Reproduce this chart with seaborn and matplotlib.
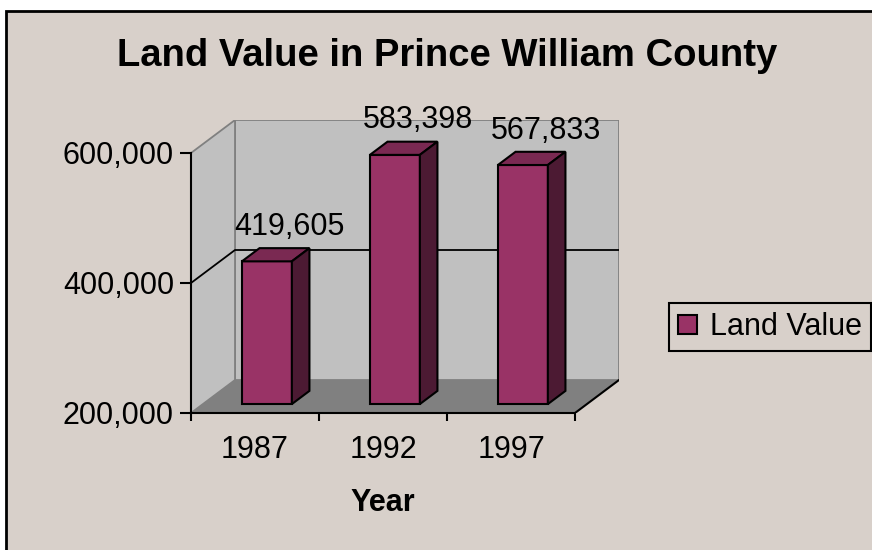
import numpy as np
import pandas as pd
import matplotlib
matplotlib.use("Agg")
import matplotlib.pyplot as plt
from matplotlib.patches import Polygon, Rectangle
from matplotlib.ticker import FuncFormatter
import matplotlib.transforms as mtransforms
import seaborn as sns

#----------- data -----------
years = ["1987", "1992", "1997"]
land_value = [419605, 583398, 567833]
series_name = "Land Value"
y_ticks = [200000, 400000, 600000]
title = "Land Value in Prince William County"
x_title = "Year"

#----------- colours (old excel look) -----------
bg = "#d8d0ca"
wall_c = "#c0c0c0"
floor_c = "#808080"
bar_front = "#993366"
bar_top = "#7a2952"
bar_side = "#4c1a33"

sns.set_theme(style="white")
plt.rcParams["font.family"] = ["Liberation Sans", "DejaVu Sans"]

df = pd.DataFrame({"Year": years, "Value": land_value})

W, H = 872, 550
fig = plt.figure(figsize=(W / 100, H / 100), dpi=100)
fig.patch.set_facecolor("white")
# chart area with black frame (runs off the right/bottom edge)
fig.patches.append(Rectangle((6 / W, -0.1), 1.1, 1.1 - 11 / H, transform=fig.transFigure,
                             facecolor=bg, edgecolor="black", lw=2, zorder=-10))

ax = fig.add_axes([191 / W, 137 / H, 428 / W, 293 / H])
ax.set_facecolor("none")

# depth of the fake 3d box, in data units
DX = 44 / 128
DY = 33 / 130 * 200000
D0, D1 = 0.27, 0.67   # bar front / back depth
ymin, ymax = y_ticks[0], y_ticks[-1]
x0, x1 = -0.5, len(years) - 0.5

def pt(x, y, d):
    return (x + d * DX, y + d * DY)

#----------- walls and floor -----------
ax.add_patch(Polygon([pt(x0, ymin, 1), pt(x1, ymin, 1), pt(x1, ymax, 1), pt(x0, ymax, 1)],
                     closed=True, fc=wall_c, ec="#808080", lw=1.3, zorder=0))
ax.add_patch(Polygon([pt(x0, ymin, 0), pt(x0, ymin, 1), pt(x0, ymax, 1), pt(x0, ymax, 0)],
                     closed=True, fc=wall_c, ec="#808080", lw=1.3, zorder=0))
ax.add_patch(Polygon([pt(x0, ymin, 0), pt(x1, ymin, 0), pt(x1, ymin, 1), pt(x0, ymin, 1)],
                     closed=True, fc=floor_c, ec="none", zorder=0.5))
ax.plot([x1, x1 + DX], [ymin, ymin + DY], color="black", lw=1.5, zorder=1)
for t in y_ticks[1:-1]:
    ax.plot([x0, x0 + DX, x1 + DX], [t, t + DY, t + DY], color="black", lw=1.3, zorder=1)

#----------- bars -----------
sns.barplot(data=df, x="Year", y="Value", color=bar_front, saturation=1, width=0.39,
            edgecolor="black", linewidth=1.5, label=series_name, ax=ax, zorder=3)
if ax.get_legend() is not None:
    ax.get_legend().remove()

dd = D1 - D0
bars = [p for p in ax.patches if isinstance(p, Rectangle)]
for p, v in zip(bars, land_value):
    h = p.get_height()
    p.set_x(p.get_x() + D0 * DX)
    p.set_y(ymin + D0 * DY)
    p.set_height(h - ymin)
    bx0 = p.get_x()
    bx1 = bx0 + p.get_width()
    by0 = p.get_y()
    by1 = by0 + p.get_height()
    top = [(bx0, by1), (bx1, by1), (bx1 + dd * DX, by1 + dd * DY), (bx0 + dd * DX, by1 + dd * DY)]
    side = [(bx1, by0), (bx1 + dd * DX, by0 + dd * DY), (bx1 + dd * DX, by1 + dd * DY), (bx1, by1)]
    ax.add_patch(Polygon(top, closed=True, fc=bar_top, ec="black", lw=1.5, zorder=3, joinstyle="miter"))
    ax.add_patch(Polygon(side, closed=True, fc=bar_side, ec="black", lw=1.5, zorder=3, joinstyle="miter"))
    ax.annotate(f"{v:,}", xy=((bx0 + bx1) / 2 + dd / 2 * DX, by1 + dd * DY),
                xytext=(10, 9.5), textcoords="offset points", ha="center", va="baseline",
                fontsize=22, color="black", zorder=5)

ax.set_xlim(x0, x1 + DX)
ax.set_ylim(ymin, ymax + DY)

#----------- axes -----------
for s in ["top", "right"]:
    ax.spines[s].set_visible(False)
for s in ["left", "bottom"]:
    ax.spines[s].set_color("black")
    ax.spines[s].set_linewidth(1.5)
    ax.spines[s].set_zorder(4)
ax.spines["left"].set_bounds(ymin, ymax)
ax.spines["bottom"].set_bounds(x0, x1)

ax.set_yticks(y_ticks)
ax.yaxis.set_major_formatter(FuncFormatter(lambda v, _: f"{v:,.0f}"))
ax.tick_params(axis="y", left=True, length=8, width=1.5, direction="out", color="black",
               labelsize=22, labelcolor="black", pad=4.3)

ax.set_xticks(range(len(years)), labels=years)
ax.set_xticks(np.arange(len(years) + 1) - 0.5, minor=True)
ax.tick_params(axis="x", which="major", bottom=True, length=0, labelsize=22,
               labelcolor="black", pad=16)
ax.tick_params(axis="x", which="minor", bottom=True, length=6, width=1.5,
               direction="out", color="black")
ax.set_ylabel("")
ax.set_xlabel(x_title, fontsize=22, fontweight="bold", color="black")
ax.xaxis.set_label_coords(1, -0.256, transform=mtransforms.blended_transform_factory(ax.transData, ax.transAxes))

#----------- title and legend -----------
fig.text(447 / W, 1 - 66 / H, title, ha="center", va="baseline",
         fontsize=27.5, fontweight="bold", color="black")

handles, labels = ax.get_legend_handles_labels()
leg = fig.legend(handles, labels, loc="upper left", bbox_to_anchor=(669 / W, 1 - 303 / H),
                 fontsize=22, frameon=True, fancybox=False, edgecolor="black", facecolor=bg,
                 framealpha=1, handlelength=0.6, handleheight=0.6, handletextpad=0.45,
                 borderpad=0.3, borderaxespad=0)
leg.get_frame().set_linewidth(1.5)
for t in leg.get_texts():
    t.set_color("black")

fig.savefig("out.png", dpi=100, facecolor=fig.get_facecolor())
